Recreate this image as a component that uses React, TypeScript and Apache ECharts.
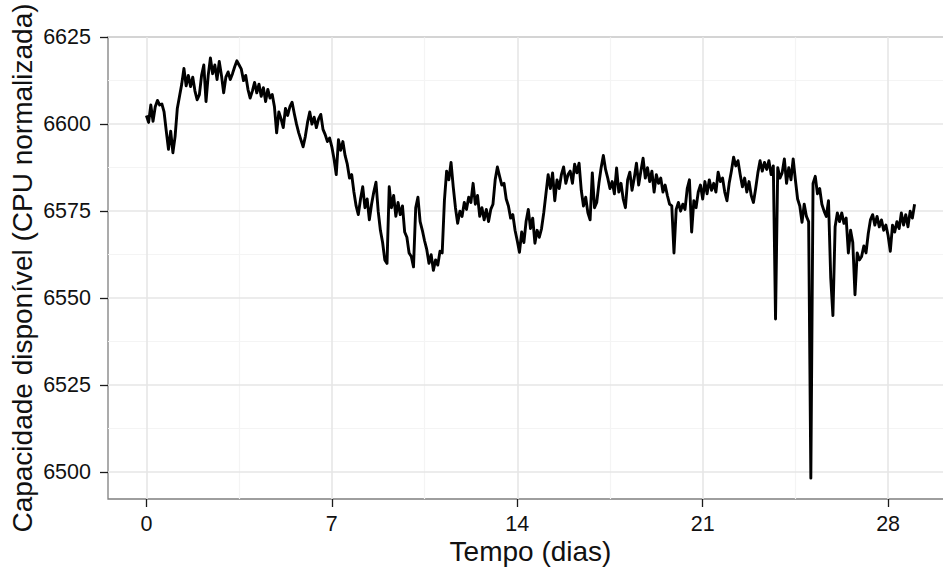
import React, { useEffect, useRef } from "react";
import * as echarts from "echarts";

// Capacity sampled every 2 hours (12 samples per day), day 0 to day 29.
const SAMPLES_PER_DAY = 12;

const capacity: number[] = [
  // dia 0
  6602.5, 6600.5, 6605.5, 6600.8, 6605.0, 6606.8, 6605.5, 6605.8, 6603.5, 6598.0, 6592.8, 6598.0,
  // dia 1
  6591.8, 6596.5, 6604.5, 6608.0, 6611.5, 6616.0, 6611.0, 6614.0, 6610.8, 6613.5, 6609.5, 6607.0,
  // dia 2
  6608.5, 6614.0, 6617.0, 6606.5, 6614.0, 6619.0, 6614.5, 6617.0, 6612.8, 6618.0, 6614.0, 6609.0,
  // dia 3
  6613.5, 6615.0, 6612.8, 6614.5, 6616.5, 6618.2, 6617.0, 6615.8, 6612.5, 6614.0, 6610.0, 6607.5,
  // dia 4
  6609.5, 6612.0, 6609.0, 6611.5, 6608.0, 6610.5, 6606.5, 6610.0, 6607.5, 6608.5, 6605.0, 6597.5,
  // dia 5
  6603.5, 6601.5, 6599.0, 6604.5, 6602.5, 6605.0, 6606.3, 6603.0, 6600.0, 6597.5, 6595.5, 6593.5,
  // dia 6
  6596.5, 6600.5, 6603.5, 6600.0, 6602.0, 6599.0, 6601.5, 6602.8, 6598.5, 6597.0, 6595.0, 6596.0,
  // dia 7
  6593.5, 6590.0, 6585.5, 6595.5, 6592.5, 6595.0, 6591.0, 6588.5, 6584.5, 6585.5, 6580.5, 6576.5,
  // dia 8
  6574.0, 6578.5, 6582.0, 6576.0, 6578.5, 6572.5, 6577.0, 6580.5, 6583.3, 6575.0, 6569.5, 6566.0,
  // dia 9
  6561.0, 6560.0, 6582.0, 6576.0, 6579.5, 6573.5, 6577.5, 6574.0, 6576.5, 6569.0, 6567.5, 6563.0,
  // dia 10
  6562.0, 6559.0, 6576.0, 6579.0, 6572.0, 6569.5, 6566.5, 6564.0, 6560.0, 6562.5, 6558.0, 6561.0,
  // dia 11
  6559.5, 6563.5, 6563.0, 6578.0, 6586.5, 6584.0, 6589.0, 6582.0, 6576.0, 6571.5, 6575.0, 6573.5,
  // dia 12
  6577.5, 6575.5, 6579.0, 6577.5, 6583.0, 6577.0, 6579.5, 6573.5, 6576.0, 6572.5, 6575.5, 6572.0,
  // dia 13
  6575.5, 6577.0, 6584.0, 6587.7, 6585.0, 6582.5, 6583.0, 6578.5, 6576.5, 6573.0, 6574.0, 6569.5,
  // dia 14
  6566.5, 6563.2, 6569.0, 6566.0, 6572.0, 6575.5, 6570.0, 6573.0, 6565.8, 6569.5, 6567.5, 6570.0,
  // dia 15
  6574.5, 6580.0, 6585.5, 6581.5, 6586.0, 6578.0, 6584.0, 6581.5, 6585.5, 6587.7, 6583.0, 6585.5,
  // dia 16
  6586.5, 6583.0, 6588.5, 6586.0, 6588.8, 6581.0, 6576.5, 6579.0, 6574.5, 6572.5, 6586.0, 6576.0,
  // dia 17
  6577.5, 6583.0, 6587.5, 6591.0, 6587.0, 6584.5, 6581.5, 6583.5, 6580.0, 6587.4, 6580.5, 6583.0,
  // dia 18
  6578.5, 6576.0, 6584.0, 6586.2, 6581.0, 6584.5, 6588.8, 6582.5, 6586.5, 6590.2, 6584.5, 6587.5,
  // dia 19
  6583.5, 6586.5, 6580.5, 6585.5, 6583.0, 6584.5, 6580.5, 6582.5, 6579.5, 6577.0, 6576.5, 6563.0,
  // dia 20
  6575.5, 6577.5, 6575.0, 6577.0, 6575.5, 6581.5, 6584.0, 6569.0, 6578.0, 6576.0, 6580.5, 6582.5,
  // dia 21
  6578.5, 6583.5, 6580.0, 6584.0, 6581.0, 6583.0, 6580.5, 6586.2, 6583.5, 6584.5, 6580.5, 6578.0,
  // dia 22
  6583.0, 6586.5, 6590.5, 6588.0, 6589.5, 6585.5, 6582.0, 6584.5, 6580.5, 6583.5, 6579.5, 6577.5,
  // dia 23
  6581.5, 6586.0, 6589.5, 6586.5, 6589.0, 6587.0, 6589.5, 6585.5, 6588.0, 6544.0, 6587.5, 6584.5,
  // dia 24
  6586.0, 6590.0, 6583.0, 6587.5, 6584.0, 6590.0, 6584.0, 6578.5, 6576.5, 6571.8, 6577.0, 6573.5,
  // dia 25
  6572.0, 6498.3, 6583.0, 6585.0, 6580.0, 6581.5, 6577.0, 6575.0, 6573.5, 6578.0, 6556.0, 6545.0,
  // dia 26
  6570.5, 6574.5, 6572.0, 6574.5, 6571.5, 6573.0, 6563.0, 6569.5, 6566.0, 6551.0, 6563.0, 6561.0,
  // dia 27
  6562.0, 6565.0, 6563.0, 6568.5, 6572.5, 6574.0, 6571.0, 6573.5, 6570.5, 6572.5, 6569.5, 6571.0,
  // dia 28
  6568.0, 6563.5, 6571.0, 6569.0, 6572.0, 6570.0, 6574.5, 6571.0, 6574.0, 6570.5, 6575.0, 6573.0,
  // dia 29
  6577.0,
];

// Axis breaks
const xTicks = [0, 7, 14, 21, 28];
const xMinor = [3.5, 10.5, 17.5, 24.5];
const yTicks = [6500, 6525, 6550, 6575, 6600, 6625];
const yMinor = [6512.5, 6537.5, 6562.5, 6587.5, 6612.5];

// Axis limits (data range padded by 5% on each side)
const xLimits = [-1.45, 30.45];
const yLimits = [6492.3, 6625.04];

const FONT = "'Liberation Sans', Arial, Helvetica, sans-serif";
const TICK_STYLE = { color: "#1a1a1a", width: 1.3 };

export default function App() {
  const ref = useRef<HTMLDivElement>(null);

  useEffect(() => {
    if (!ref.current) return;
    const chart = echarts.init(ref.current, undefined, { renderer: "svg" });

    const points = capacity.map((v, i) => [i / SAMPLES_PER_DAY, v]);

    const gridLine = (values: number[], key: "xAxis" | "yAxis") =>
      values.map((v) => ({ [key]: v }));

    chart.setOption({
      animation: false,
      backgroundColor: "#ffffff",
      grid: {
        left: 108,
        top: 37,
        width: 845,
        height: 462,
        show: true,
        backgroundColor: "#ffffff",
        borderColor: "#7f7f7f",
        borderWidth: 1.3,
        containLabel: false,
        outerBoundsMode: "none",
      },
      xAxis: {
        type: "value",
        min: xLimits[0],
        max: xLimits[1],
        splitLine: { show: false },
        axisLine: { show: false, onZero: false },
        axisTick: {
          show: true,
          customValues: xTicks,
          length: 8,
          lineStyle: TICK_STYLE,
        },
        axisLabel: {
          customValues: xTicks,
          margin: 14,
          fontSize: 21.5,
          color: "#111111",
          fontFamily: FONT,
          formatter: (v: number) => String(v),
        },
        name: "Tempo (dias)",
        nameLocation: "middle",
        nameGap: 38,
        nameMoveOverlap: false,
        nameTextStyle: { fontSize: 28, color: "#111111", fontFamily: FONT },
      },
      yAxis: {
        type: "value",
        min: yLimits[0],
        max: yLimits[1],
        splitLine: { show: false },
        axisLine: { show: false, onZero: false },
        axisTick: {
          show: true,
          customValues: yTicks,
          length: 8,
          lineStyle: TICK_STYLE,
        },
        axisLabel: {
          customValues: yTicks,
          margin: 17,
          fontSize: 21.5,
          color: "#111111",
          fontFamily: FONT,
          formatter: (v: number) => String(v),
        },
        name: "Capacidade disponível (CPU normalizada)",
        nameLocation: "middle",
        nameRotate: 90,
        nameGap: 72,
        nameMoveOverlap: false,
        nameTextStyle: { fontSize: 28, color: "#111111", fontFamily: FONT },
      },
      series: [
        {
          name: "minor-grid",
          type: "line",
          data: [],
          silent: true,
          z: 1,
          markLine: {
            silent: true,
            animation: false,
            symbol: ["none", "none"],
            label: { show: false },
            emphasis: { disabled: true },
            lineStyle: { color: "#f4f4f4", width: 1.2, type: "solid" },
            data: [...gridLine(xMinor, "xAxis"), ...gridLine(yMinor, "yAxis")],
          },
        },
        {
          name: "major-grid",
          type: "line",
          data: [],
          silent: true,
          z: 1,
          markLine: {
            silent: true,
            animation: false,
            symbol: ["none", "none"],
            label: { show: false },
            emphasis: { disabled: true },
            lineStyle: { color: "#e6e6e6", width: 1.6, type: "solid" },
            data: [...gridLine(xTicks, "xAxis"), ...gridLine(yTicks, "yAxis")],
          },
        },
        {
          name: "capacidade",
          type: "line",
          data: points,
          z: 5,
          showSymbol: false,
          symbol: "none",
          silent: true,
          lineStyle: { color: "#000000", width: 2.9, join: "round" },
        },
      ],
    });

    return () => chart.dispose();
  }, []);

  return (
    <div
      ref={ref}
      style={{ position: "fixed", left: 0, top: 0, width: 943, height: 569 }}
    />
  );
}
